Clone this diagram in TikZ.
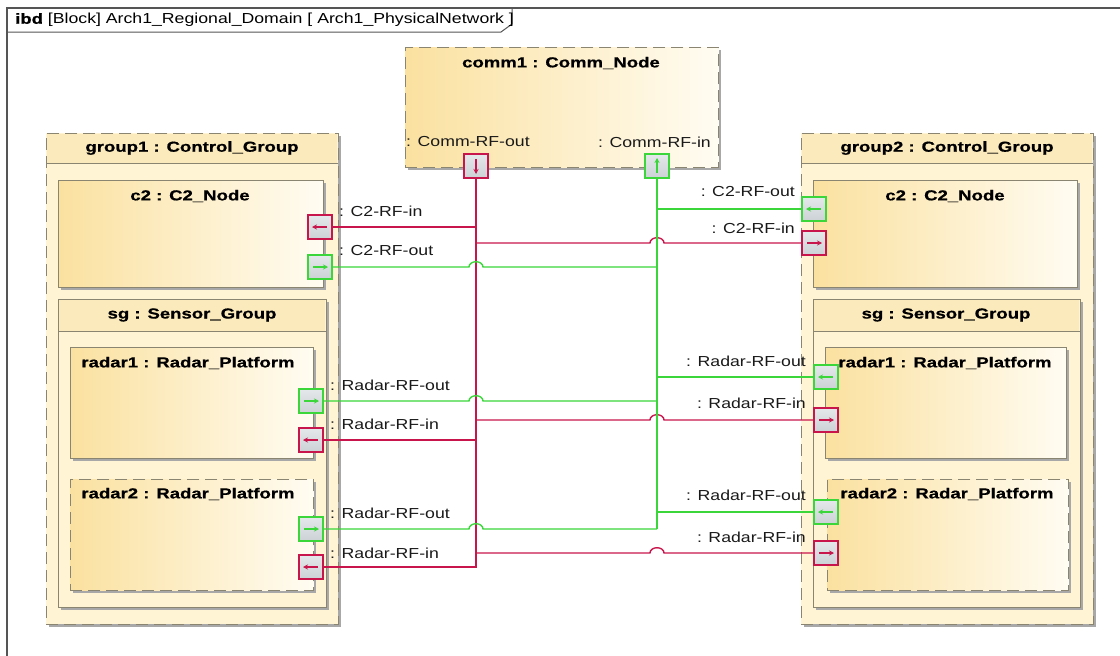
\documentclass[tikz,border=0pt]{standalone}
\usepackage{fontspec}
\newfontfamily\lblf{Liberation Sans}[FakeStretch=1.22]
\newfontfamily\ttlf{Liberation Sans}[FakeStretch=1.28,FakeBold=0.7]
\usetikzlibrary{shadows,arrows.meta}
\definecolor{frameC}{HTML}{555555}
\definecolor{boxB}{HTML}{8A8570}
\definecolor{grpFill}{HTML}{FFF4D4}
\definecolor{hdrFill}{HTML}{FBEABB}
\definecolor{blkL}{HTML}{FBE1A0}
\definecolor{blkR}{HTML}{FFFCF2}
\definecolor{redC}{HTML}{C8164C}
\definecolor{grnC}{HTML}{3AD63A}
\definecolor{portT}{HTML}{E4E8EA}
\definecolor{portB}{HTML}{CBD1D5}
\definecolor{shad}{HTML}{A8A8A8}
\tikzset{
  frm/.style={draw=frameC, line width=1.3pt},
  grp/.style={draw=boxB, line width=0.9pt, dash pattern=on 12pt off 6pt, fill=grpFill, anchor=north west, inner sep=0pt,
    drop shadow={shadow xshift=3pt, shadow yshift=-3pt, fill=shad, opacity=1}},
  sgb/.style={draw=boxB, line width=0.9pt, fill=grpFill, anchor=north west, inner sep=0pt,
    drop shadow={shadow xshift=3pt, shadow yshift=-3pt, fill=shad, opacity=1}},
  blk/.style={draw=boxB, line width=0.9pt, left color=blkL, right color=blkR, anchor=north west, inner sep=0pt,
    drop shadow={shadow xshift=3pt, shadow yshift=-3pt, fill=shad, opacity=1}},
  dblk/.style={blk, dash pattern=on 12pt off 6pt},
  hdr/.style={fill=hdrFill},
  hline/.style={draw=boxB, line width=0.9pt},
  ttl/.style={font=\ttlf\bfseries\fontsize{14.5}{16}\selectfont, inner sep=0pt, text=black},
  lbl/.style={font=\lblf\fontsize{14.5}{16}\selectfont, inner sep=0pt, text=black!90},
  port/.style={minimum size=24pt, inner sep=0pt, line width=1.3pt, top color=portT, bottom color=portB},
  rport/.style={port, draw=redC},
  gport/.style={port, draw=grnC},
  rl/.style={draw=redC, line width=1.4pt},
  gl/.style={draw=grnC, line width=1.4pt},
  rar/.style={draw=redC, line width=1.1pt, -{Stealth[length=5pt,width=5pt]}},
  gar/.style={draw=grnC, line width=1.1pt, -{Stealth[length=5pt,width=5pt]}},
}
\begin{document}
\begin{tikzpicture}[x=1pt,y=-1pt]
\useasboundingbox[fill=white] (0,0) rectangle (1120,656);
% frame
\coordinate (fTL) at (7,8);
\coordinate (fBL) at (7,660);
\coordinate (fTR) at (1124,8);
\draw[frm] (fBL) -- (fTL) -- (fTR);
\draw[frm, line width=1pt] (7,32) -- (501,32) -- (512,24) -- (512,8);
\node[lbl, anchor=west, text=black] (title) at (15,20) {{\ttlf\bfseries ibd} [Block] Arch1\_Regional\_Domain [ Arch1\_PhysicalNetwork ]};

% comm1
\node[dblk, minimum width=313pt, minimum height=120pt] (comm) at (405,47) {};
\node[ttl] (commT) at (561,63) {comm1 : Comm\_Node};

% group1
\node[grp, minimum width=292pt, minimum height=491pt] (g1) at (46,133) {};
\fill[hdr] (47,134) rectangle (337,163);
\draw[hline] (46,163) -- (338,163);
\node[ttl] (g1T) at (192,148) {group1 : Control\_Group};
\node[blk, minimum width=265pt, minimum height=107pt] (c2L) at (58,180) {};
\node[ttl] (c2LT) at (190,196) {c2 : C2\_Node};
\node[sgb, minimum width=268pt, minimum height=308pt] (sgL) at (58,299) {};
\fill[hdr] (59,300) rectangle (325,331);
\draw[hline] (58,331) -- (326,331);
\node[ttl] (sgLT) at (192,315) {sg : Sensor\_Group};
\node[blk, minimum width=243pt, minimum height=111pt] (r1L) at (70,347) {};
\node[ttl] (r1LT) at (188,363) {radar1 : Radar\_Platform};
\node[dblk, minimum width=243pt, minimum height=111pt] (r2L) at (70,479) {};
\node[ttl] (r2LT) at (188,494) {radar2 : Radar\_Platform};

% group2
\node[grp, minimum width=292pt, minimum height=491pt] (g2) at (801,133) {};
\fill[hdr] (802,134) rectangle (1092,163);
\draw[hline] (801,163) -- (1093,163);
\node[ttl] (g2T) at (947,148) {group2 : Control\_Group};
\node[blk, minimum width=264pt, minimum height=107pt] (c2R) at (813,180) {};
\node[ttl] (c2RT) at (945,196) {c2 : C2\_Node};
\node[sgb, minimum width=267pt, minimum height=308pt] (sgR) at (813,299) {};
\fill[hdr] (814,300) rectangle (1079,331);
\draw[hline] (813,331) -- (1080,331);
\node[ttl] (sgRT) at (946,315) {sg : Sensor\_Group};
\node[blk, minimum width=241pt, minimum height=111pt] (r1R) at (825,347) {};
\node[ttl] (r1RT) at (945,363) {radar1 : Radar\_Platform};
\node[dblk, minimum width=241pt, minimum height=111pt] (r2R) at (827,479) {};
\node[ttl] (r2RT) at (947,494) {radar2 : Radar\_Platform};

% red connectors (Comm-RF-out bus)
\draw[rl] (476,177) |- (320,227);
\draw[rl] (476,227) |- (311,440);
\draw[rl] (476,440) |- (311,567);
\draw[rl] (476,243) -- (650,243) .. controls (650,236) and (664,236) .. (664,243) -- (814,243);
\draw[rl] (476,420) -- (650,420) .. controls (650,413) and (664,413) .. (664,420) -- (826,420);
\draw[rl] (476,553) -- (650,553) .. controls (650,546) and (664,546) .. (664,553) -- (826,553);
% green connectors (Comm-RF-in bus)
\draw[gl] (657,177) |- (814,209);
\draw[gl] (657,209) |- (826,377);
\draw[gl] (657,377) |- (826,512);
\draw[gl] (657,267) -- (483,267) .. controls (483,260) and (469,260) .. (469,267) -- (320,267);
\draw[gl] (657,401) -- (483,401) .. controls (483,394) and (469,394) .. (469,401) -- (311,401);
\draw[gl] (657,529) -- (483,529) .. controls (483,522) and (469,522) .. (469,529) -- (311,529);
\draw[gl] (657,512) -- (657,529);

% ports
\node[rport] (pCommOut) at (476,166) {};
\draw[rar] ([yshift=7pt]pCommOut.center) -- ([yshift=-8pt]pCommOut.center);
\node[gport] (pCommIn) at (657,166) {};
\draw[gar] ([yshift=-7pt]pCommIn.center) -- ([yshift=8pt]pCommIn.center);

\node[rport] (pLc2in) at (320,227) {};
\draw[rar] ([xshift=7pt]pLc2in.center) -- ([xshift=-8pt]pLc2in.center);
\node[gport] (pLc2out) at (320,267) {};
\draw[gar] ([xshift=-7pt]pLc2out.center) -- ([xshift=8pt]pLc2out.center);
\node[gport] (pLr1out) at (311,401) {};
\draw[gar] ([xshift=-7pt]pLr1out.center) -- ([xshift=8pt]pLr1out.center);
\node[rport] (pLr1in) at (311,440) {};
\draw[rar] ([xshift=7pt]pLr1in.center) -- ([xshift=-8pt]pLr1in.center);
\node[gport] (pLr2out) at (311,529) {};
\draw[gar] ([xshift=-7pt]pLr2out.center) -- ([xshift=8pt]pLr2out.center);
\node[rport] (pLr2in) at (311,567) {};
\draw[rar] ([xshift=7pt]pLr2in.center) -- ([xshift=-8pt]pLr2in.center);

\node[gport] (pRc2out) at (814,209) {};
\draw[gar] ([xshift=7pt]pRc2out.center) -- ([xshift=-8pt]pRc2out.center);
\node[rport] (pRc2in) at (814,243) {};
\draw[rar] ([xshift=-7pt]pRc2in.center) -- ([xshift=8pt]pRc2in.center);
\node[gport] (pRr1out) at (826,377) {};
\draw[gar] ([xshift=7pt]pRr1out.center) -- ([xshift=-8pt]pRr1out.center);
\node[rport] (pRr1in) at (826,420) {};
\draw[rar] ([xshift=-7pt]pRr1in.center) -- ([xshift=8pt]pRr1in.center);
\node[gport] (pRr2out) at (826,512) {};
\draw[gar] ([xshift=7pt]pRr2out.center) -- ([xshift=-8pt]pRr2out.center);
\node[rport] (pRr2in) at (826,553) {};
\draw[rar] ([xshift=-7pt]pRr2in.center) -- ([xshift=8pt]pRr2in.center);

% labels
\node[lbl, anchor=west] (lCo) at (406,142) {: Comm-RF-out};
\node[lbl, anchor=east] (lCi) at (711,142) {: Comm-RF-in};
\node[lbl, anchor=west] (lLc2in) at (339,211) {: C2-RF-in};
\node[lbl, anchor=west] (lLc2out) at (339,251) {: C2-RF-out};
\node[lbl, anchor=west] (lLr1out) at (330,385) {: Radar-RF-out};
\node[lbl, anchor=west] (lLr1in) at (330,424) {: Radar-RF-in};
\node[lbl, anchor=west] (lLr2out) at (330,513) {: Radar-RF-out};
\node[lbl, anchor=west] (lLr2in) at (330,553) {: Radar-RF-in};
\node[lbl, anchor=east] (lRc2out) at (795,192) {: C2-RF-out};
\node[lbl, anchor=east] (lRc2in) at (795,228) {: C2-RF-in};
\node[lbl, anchor=east] (lRr1out) at (806,361) {: Radar-RF-out};
\node[lbl, anchor=east] (lRr1in) at (806,403) {: Radar-RF-in};
\node[lbl, anchor=east] (lRr2out) at (806,495) {: Radar-RF-out};
\node[lbl, anchor=east] (lRr2in) at (806,537) {: Radar-RF-in};
\end{tikzpicture}
\end{document}
